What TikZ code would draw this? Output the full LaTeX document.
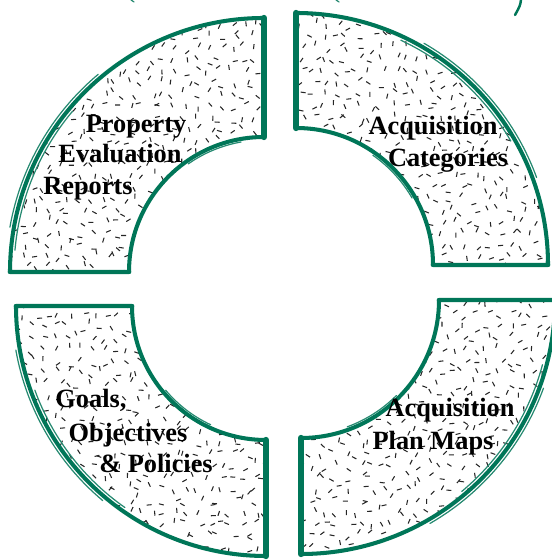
\documentclass[tikz,border=0pt]{standalone}
\usepackage{fontspec}
\setmainfont{Liberation Serif}
\usetikzlibrary{calc}
\definecolor{brushgreen}{RGB}{0,118,88}
\tikzset{
  brush/.style={line width=2.3pt, brushgreen, line join=round, line cap=round},
  brushheavy/.style={line width=3.6pt, brushgreen, line cap=round},
  brushthin/.style={line width=0.7pt, brushgreen!85, line cap=round},
  speck/.style={line width=0.6pt, black!85},
  lbl/.style={anchor=base, inner sep=0pt, font=\fontsize{15}{18}\selectfont\bfseries},
}
% corner x, corner y, start angle, inner radius, outer radius
\newcommand{\quarterring}[5]{($(#1,#2)+(#3:#5)$) arc[start angle=#3, end angle=#3+90, radius=#5]
  -- ($(#1,#2)+({#3+90}:#4)$) arc[start angle=#3+90, end angle=#3, radius=#4] -- cycle}

\begin{document}
\begin{tikzpicture}[x=0.02cm, y=0.02cm]
    \useasboundingbox (0,0) rectangle (551,560);

    % dash texture inside the four pieces
    \begin{scope}
        \clip \quarterring{264}{288}{90}{135}{254} \quarterring{296}{295}{0}{137}{252}
              \quarterring{266}{254}{180}{134}{250} \quarterring{301}{260}{270}{138}{254};
        \pgfmathsetseed{42}
        \foreach \i in {0,...,47}{
            \foreach \j in {0,...,48}{
                \pgfmathsetmacro\sx{\i*11.6+4.5*rand}
                \pgfmathsetmacro\sy{\j*11.6+4.5*rand}
                \pgfmathsetmacro\sa{180*rnd}
                \draw[speck] (\sx,\sy) -- ++(\sa:5);
            }
        }
    \end{scope}

    % outlines
    \foreach \cx/\cy/\a/\ri/\ro/\s in {264/288/90/135/254/40, 296/295/0/137/252/20,
                                      266/254/180/134/250/10, 301/260/270/138/254/30}{
        \draw[brush] \quarterring{\cx}{\cy}{\a}{\ri}{\ro};
        \draw[brushthin] ($(\cx,\cy)+({\a+\s}:\ro+4)$) arc[start angle=\a+\s, end angle=\a+\s+40, radius=\ro+4];
        \draw[brushthin] ($(\cx,\cy)+({\a+\s+10}:\ro-4)$) arc[start angle=\a+\s+10, end angle=\a+\s+45, radius=\ro-4];
        \draw[brushthin] ($(\cx,\cy)+({\a+50-\s}:\ri-3)$) arc[start angle=\a+50-\s, end angle=\a+75-\s, radius=\ri-3];
    }
    \draw[brushheavy] (264,423) -- (264,542);
    \draw[brushheavy] (296,432) -- (296,547);
    \draw[brushheavy] (266,120) -- (266,4);
    \draw[brushheavy] (301,122) -- (301,6);
    \draw[brush, line width=2.6pt] (10,288) -- (129,288);
    \draw[brush, line width=2.6pt] (16,254) -- (132,254);
    \draw[brush, line width=2.6pt] (433,295) -- (548,295);
    \draw[brush, line width=2.6pt] (439,260) -- (551,260);

    % bits of the outer ring at the top
    \draw[brush, line width=1.4pt] (521,560) .. controls (520,554) .. (515,545);
    \draw[brushthin] (131,560) -- (134,558);
    \draw[brushthin] (336,560) -- (339,558);

    % labels
    \node[lbl] (pe1) at (136,427) {Property};
    \node[lbl] (pe2) at (120,397) {Evaluation};
    \node[lbl] (pe3) at (88,365) {Reports};

    \node[lbl] (ac1) at (433,425) {Acquisition};
    \node[lbl] (ac2) at (448,393) {Categories};

    \node[lbl] (go1) at (91,152) {Goals,};
    \node[lbl] (go2) at (128,118) {Objectives};
    \node[lbl] (go3) at (156,87) {\& Policies};

    \node[lbl] (pm1) at (450,143) {Acquisition};
    \node[lbl] (pm2) at (433,110) {Plan Maps};
\end{tikzpicture}
\end{document}
